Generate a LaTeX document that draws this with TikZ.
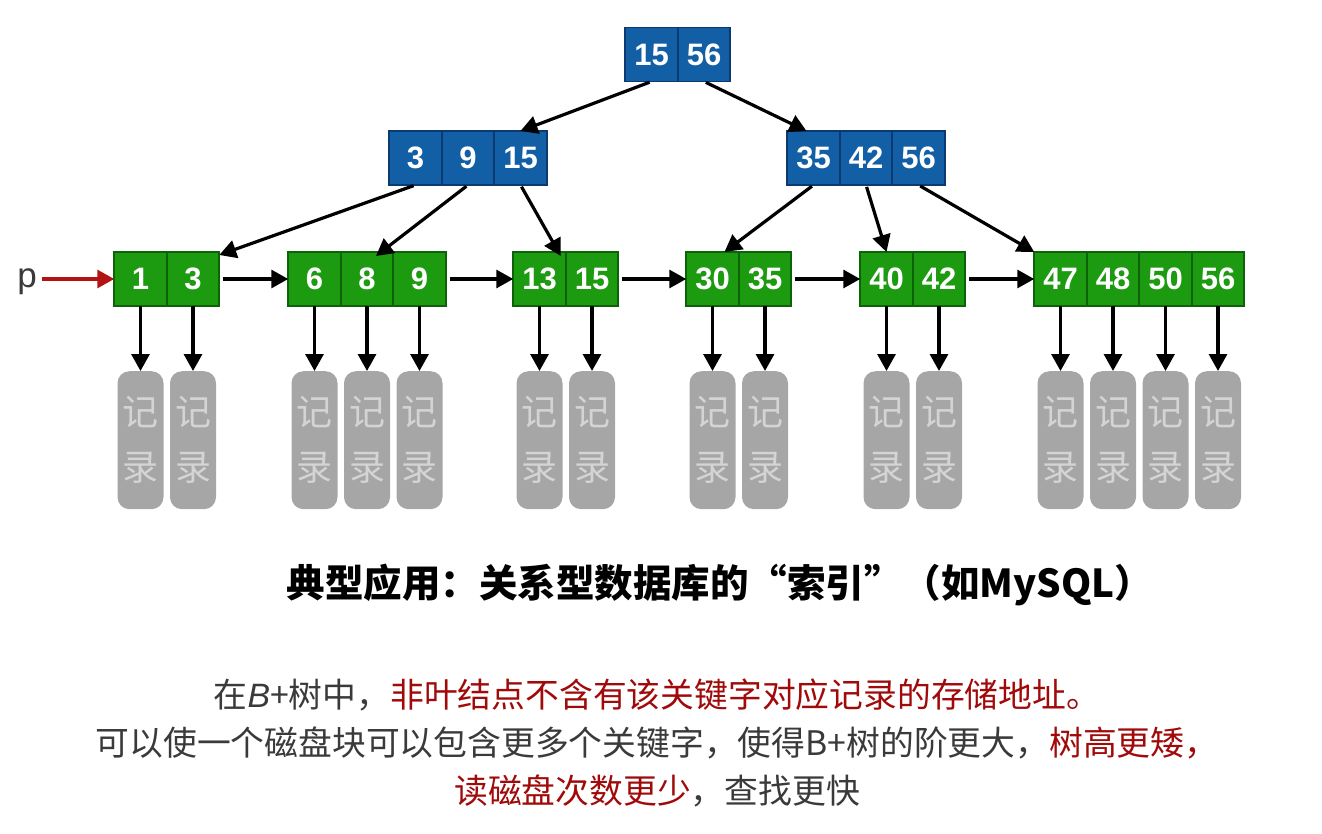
\documentclass[tikz,border=0pt]{standalone}
\usepackage{fontspec}
\setmainfont{Liberation Sans}
\newfontfamily\cjk{Noto Sans CJK SC}
\usepackage{tikz}
\usetikzlibrary{positioning, arrows.meta}
\definecolor{innerfill}{RGB}{18,95,166}
\definecolor{innerline}{RGB}{10,58,112}
\definecolor{leaffill}{RGB}{28,154,16}
\definecolor{leafline}{RGB}{14,98,10}
\definecolor{recfill}{RGB}{166,166,166}
\definecolor{rectext}{RGB}{212,212,212}
\definecolor{notegray}{RGB}{58,58,58}
\definecolor{notered}{RGB}{160,10,10}
\definecolor{pred}{RGB}{178,20,20}

\begin{document}
\begin{tikzpicture}[x=1pt, y=-1pt,
  Arr/.style={-{Triangle[length=17pt, width=18pt]}, line width=3.2pt},
  key/.style={draw, line width=1.8pt, outer sep=0pt, inner sep=0pt,
    minimum width=52.5pt, minimum height=54pt, text=white,
    font=\bfseries\fontsize{31}{31}\selectfont},
  inner/.style={key, fill=innerfill, draw=innerline},
  leaf/.style={key, fill=leaffill, draw=leafline},
  rec/.style={fill=recfill, rounded corners=12pt, minimum width=46pt,
    minimum height=138pt, inner sep=0pt, align=center, text=rectext,
    font=\cjk\fontsize{36}{55}\selectfont}]
  \useasboundingbox (0,0) rectangle (1322,834);
  % root and inner nodes
  \node [inner] (r1) at (651.5,54.5) {15};
  \node [inner, right=0pt of r1] (r2) {56};
  \node [inner] (a1) at (415.5,158) {3};
  \node [inner, right=0pt of a1] (a2) {9};
  \node [inner, right=0pt of a2] (a3) {15};
  \node [inner] (b1) at (813.5,158) {35};
  \node [inner, right=0pt of b1] (b2) {42};
  \node [inner, right=0pt of b2] (b3) {56};
  % leaves
  \node [leaf] (l11) at (140.5,279) {1};
  \node [leaf, right=0pt of l11] (l12) {3};
  \node [leaf] (l21) at (314.5,279) {6};
  \node [leaf, right=0pt of l21] (l22) {8};
  \node [leaf, right=0pt of l22] (l23) {9};
  \node [leaf] (l31) at (539.5,279) {13};
  \node [leaf, right=0pt of l31] (l32) {15};
  \node [leaf] (l41) at (712.5,279) {30};
  \node [leaf, right=0pt of l41] (l42) {35};
  \node [leaf] (l51) at (886.5,279) {40};
  \node [leaf, right=0pt of l51] (l52) {42};
  \node [leaf] (l61) at (1060.5,279) {47};
  \node [leaf, right=0pt of l61] (l62) {48};
  \node [leaf, right=0pt of l62] (l63) {50};
  \node [leaf, right=0pt of l63] (l64) {56};
  % records
  \foreach \c in {l11,l12,l21,l22,l23,l31,l32,l41,l42,l51,l52,l61,l62,l63,l64} {
    \node [rec, below=65pt of \c] (rec-\c) {记\\录};
    \draw[Arr] (\c) -- (rec-\c);
  }
  \draw[Arr, shorten <=2pt] (r1.south) -- (a3.north);
  \draw[Arr, shorten <=2pt] (r2.south) -- ([xshift=-7pt]b1.north);
  \draw[Arr, shorten <=2pt] (a1.south) -- ([yshift=-3pt]l12.north east);
  \draw[Arr, shorten <=2pt] (a2.south) -- ([xshift=9pt, yshift=-4pt]l22.north);
  \draw[Arr, shorten <=2pt] (a3.south) -- ([xshift=-5pt, yshift=-4pt]l31.north east);
  \draw[Arr, shorten <=2pt] (b1.south) -- ([xshift=12pt]l41.north);
  \draw[Arr, shorten <=2pt] (b2.south) -- (l51.north);
  \draw[Arr, shorten <=2pt] (b3.south) -- (l61.north west);
  \draw[Arr, shorten <=4pt] (l12) -- (l21);
  \draw[Arr, shorten <=4pt] (l23) -- (l31);
  \draw[Arr, shorten <=4pt] (l32) -- (l41);
  \draw[Arr, shorten <=4pt] (l42) -- (l51);
  \draw[Arr, shorten <=4pt] (l52) -- (l61);
  \node [inner sep=0pt, text=notegray, font=\fontsize{35}{35}\selectfont] (p) at (27,282) {p};
  \draw[Arr, pred, shorten <=5pt] (p.east |- l11) -- (l11);
  % text
  \node (title) at (720,585) {\cjk\bfseries\fontsize{38.5}{40}\selectfont 典型应用：关系型数据库的“索引”（如MySQL）};
  \node [align=center, text=notegray, font=\cjk\fontsize{33.8}{48}\selectfont] (note) at (657,743)
    {在{\rmfamily\itshape B}+树中，\textcolor{notered}{非叶结点不含有该关键字对应记录的存储地址。}\\
     可以使一个磁盘块可以包含更多个关键字，使得B+树的阶更大，\textcolor{notered}{树高更矮，}\\
     \textcolor{notered}{读磁盘次数更少}，查找更快};
\end{tikzpicture}
\end{document}
